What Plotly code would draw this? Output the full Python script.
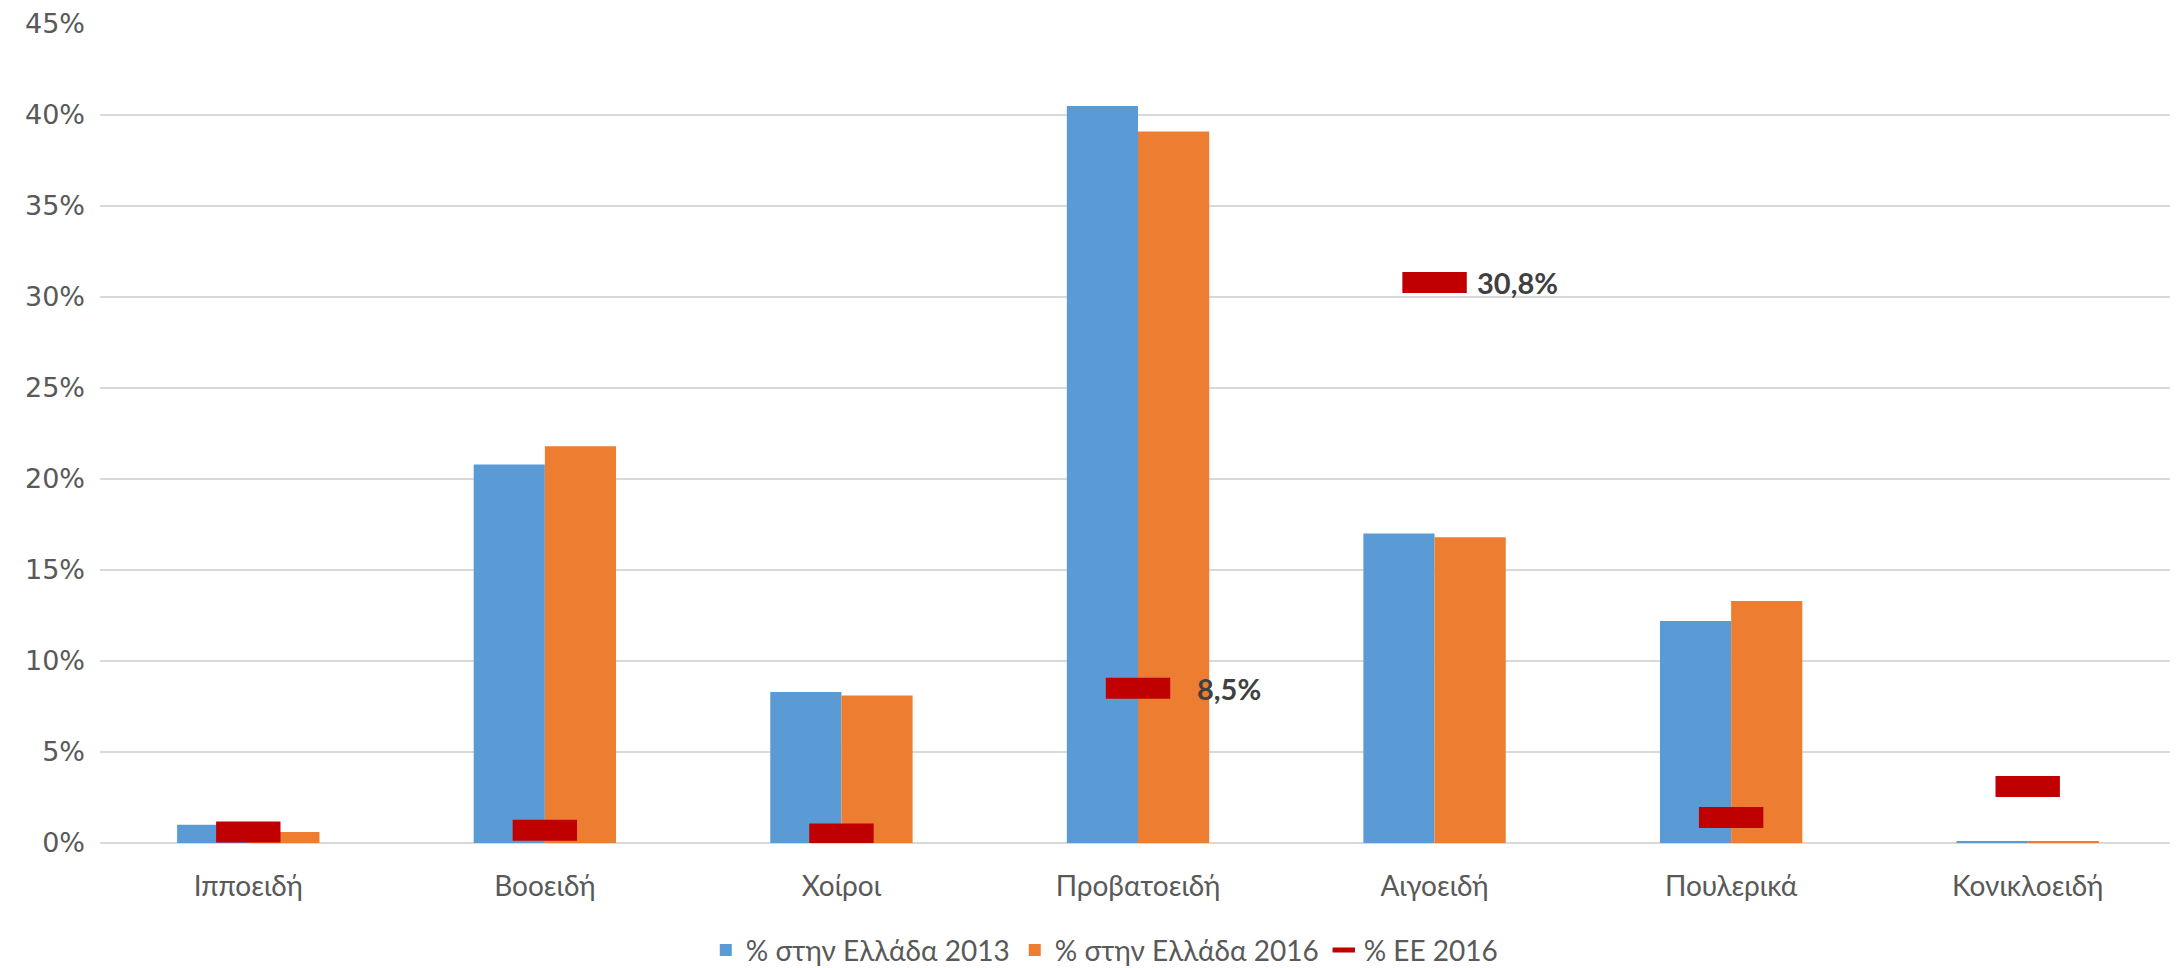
import plotly.graph_objects as go

categories = ["Ιπποειδή", "Βοοειδή", "Χοίροι", "Προβατοειδή", "Αιγοειδή", "Πουλερικά", "Κονικλοειδή"]
greece_2013 = [0.010, 0.208, 0.083, 0.405, 0.170, 0.122, 0.001]
greece_2016 = [0.006, 0.218, 0.081, 0.391, 0.168, 0.133, 0.001]
eu_2016 = [0.006, 0.007, 0.005, 0.085, 0.308, 0.014, 0.031]
eu_labels = ["", "", "", "8,5%", "30,8%", "", ""]

# label offsets (pixels, style only)
label_xshift = [42, 42, 42, 57, 40, 42, 42]

FONT = "Lato"
GRAY = "#595959"

fig = go.Figure()
fig.add_trace(go.Bar(x=categories, y=greece_2013, name="% στην Ελλάδα 2013",
                     marker=dict(color="#5B9BD5", line=dict(width=0))))
fig.add_trace(go.Bar(x=categories, y=greece_2016, name="% στην Ελλάδα 2016",
                     marker=dict(color="#ED7D31", line=dict(width=0))))
fig.add_trace(go.Scatter(x=categories, y=eu_2016, name="% ΕΕ 2016", mode="markers",
                         marker=dict(symbol="line-ew", size=46, color="#C00000",
                                     line=dict(color="#C00000", width=21))))

for cat, val, lab, dx in zip(categories, eu_2016, eu_labels, label_xshift):
    if lab:
        fig.add_annotation(x=cat, y=val, text="<b>" + lab + "</b>", showarrow=False,
                           xanchor="left", yanchor="middle", xshift=dx,
                           font=dict(family=FONT, size=29, color="#404040"))

fig.update_layout(
    width=2170, height=960,
    margin=dict(l=92, r=2, t=16, b=125, autoexpand=False),
    plot_bgcolor="white", paper_bgcolor="white",
    barmode="group", bargap=0.52, bargroupgap=0,
    font=dict(family=FONT, size=24, color=GRAY),
    showlegend=True,
    legend=dict(orientation="h", x=0.484, xanchor="center", y=-0.131, yanchor="middle",
                font=dict(family=FONT, size=28, color=GRAY), traceorder="normal",
                itemwidth=30),
    xaxis=dict(showgrid=False, showline=False, ticks="", automargin=False,
               ticklabelstandoff=24,
               tickfont=dict(family=FONT, size=28, color=GRAY)),
    yaxis=dict(range=[0, 0.45], dtick=0.05, tickformat=".0%", showgrid=True,
               gridcolor="#d9d9d9", gridwidth=1.5, zeroline=True, zerolinecolor="#d9d9d9",
               zerolinewidth=1.5, ticks="", ticklabelstandoff=14, automargin=False,
               ticklabeloverflow="allow",
               tickfont=dict(family="DejaVu Sans", size=27, color=GRAY)),
)

fig.write_html("out.html")
